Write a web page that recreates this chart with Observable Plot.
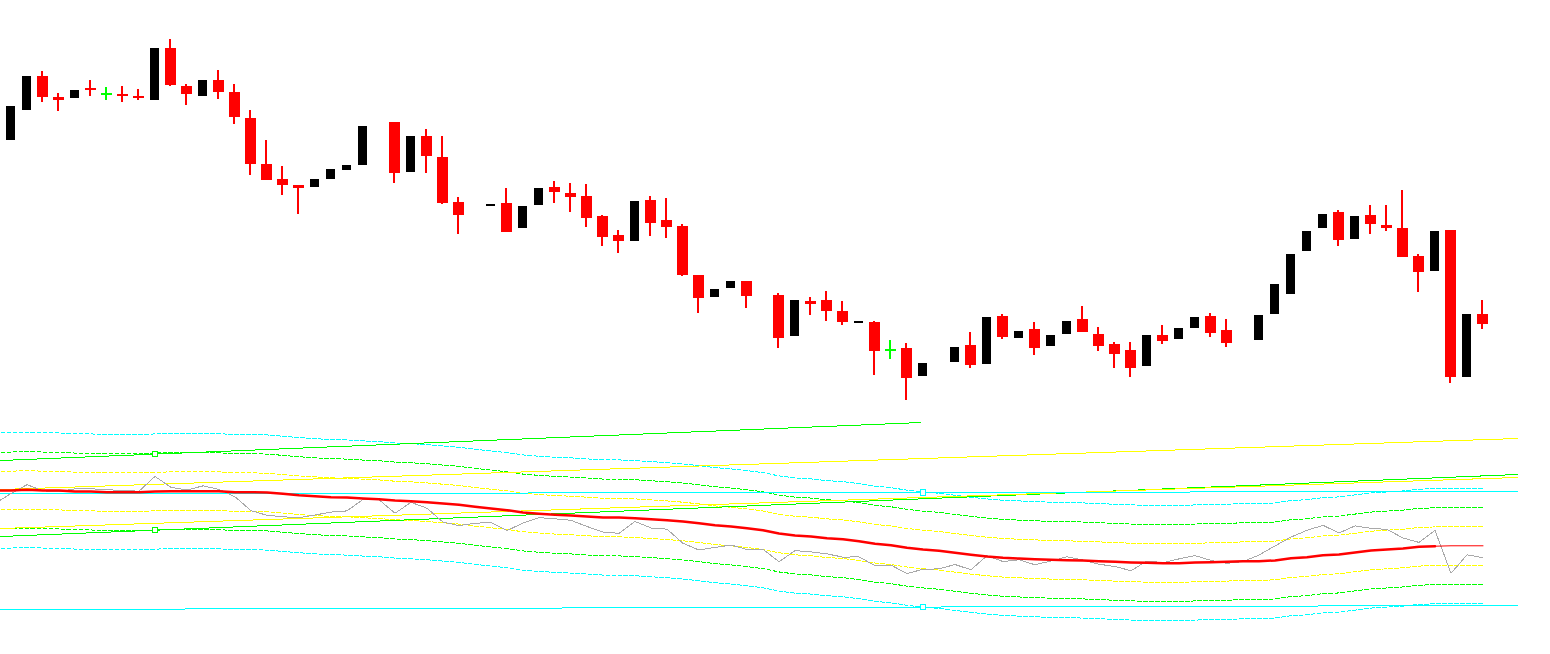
<!DOCTYPE html>
<html>
<head>
<meta charset="utf-8">
<script src="https://cdn.jsdelivr.net/npm/d3@7"></script>
<script src="https://cdn.jsdelivr.net/npm/@observablehq/plot@0.6"></script>
<style>
html,body{margin:0;padding:0;background:#ffffff;overflow:hidden}
#chart svg{display:block;background:#ffffff}
</style>
</head>
<body>
<div id="chart"></div>
<script>
// ---- DATA (bar -1 sits just off the left edge; null = bar not drawn as a candle) ----
const bars = d3.range(-1, 93);

const open = [null,
1.1360,1.1390,1.1424,1.1403,1.1402,1.1412,1.1407,1.1406,1.1404,1.1400,
1.1452,1.1414,1.1404,1.1420,1.1408,1.1382,1.1336,1.1321,1.1315,1.1313,
1.1321,1.1330,1.1335,null,1.1378,1.1328,1.1364,1.1343,1.1298,null,
1.1294,1.1297,1.1272,1.1295,1.1313,1.1307,1.1304,1.1284,1.1265,1.1259,
1.1300,1.1280,1.1274,1.1225,1.1203,1.1212,1.1219,null,1.1205,1.1164,
1.1199,1.1200,1.1189,1.1177,1.1178,1.1151,1.1152,1.1124,null,1.1138,
1.1155,1.1136,1.1184,1.1162,1.1171,1.1154,1.1166,1.1181,1.1166,1.1156,
1.1150,1.1134,1.1165,1.1161,1.1172,1.1184,1.1170,null,1.1160,1.1186,
1.1206,1.1249,1.1272,1.1288,1.1261,1.1285,1.1275,1.1272,1.1244,1.1229,
1.1270,1.1123,1.1186];

const high = [null,
1.1394,1.1424,1.1429,1.1407,1.1410,1.1420,1.1413,1.1414,1.1411,1.1452,
1.1461,1.1416,1.1420,1.1430,1.1416,1.1390,1.1360,1.1334,1.1315,1.1321,
1.1331,1.1335,1.1374,null,1.1378,1.1364,1.1371,1.1364,1.1303,null,
1.1296,1.1312,1.1294,1.1312,1.1319,1.1317,1.1316,1.1285,1.1270,1.1299,
1.1304,1.1302,1.1276,1.1225,1.1211,1.1219,1.1219,null,1.1207,1.1200,
1.1203,1.1209,1.1199,1.1179,1.1179,1.1160,1.1157,1.1137,null,1.1153,
1.1168,1.1183,1.1186,1.1169,1.1178,1.1165,1.1179,1.1194,1.1173,1.1158,
1.1158,1.1165,1.1175,1.1172,1.1183,1.1187,1.1181,null,1.1185,1.1216,
1.1246,1.1269,1.1286,1.1290,1.1284,1.1295,1.1295,1.1310,1.1246,1.1269,
1.1270,1.1186,1.1200];

const low = [null,
1.1360,1.1390,1.1398,1.1389,1.1402,1.1404,1.1400,1.1398,1.1400,1.1400,
1.1414,1.1395,1.1404,1.1401,1.1376,1.1325,1.1320,1.1305,1.1286,1.1313,
1.1321,1.1330,1.1335,null,1.1317,1.1328,1.1327,1.1296,1.1266,null,
1.1294,1.1268,1.1272,1.1295,1.1297,1.1288,1.1273,1.1254,1.1247,1.1259,
1.1264,1.1262,1.1224,1.1187,1.1203,1.1212,1.1192,null,1.1152,1.1164,
1.1185,1.1179,1.1175,1.1177,1.1125,1.1141,1.1100,1.1124,null,1.1138,
1.1132,1.1136,1.1161,1.1162,1.1145,1.1154,1.1166,1.1168,1.1149,1.1132,
1.1123,1.1134,1.1156,1.1161,1.1172,1.1163,1.1153,null,1.1160,1.1186,
1.1206,1.1249,1.1272,1.1254,1.1261,1.1266,1.1269,1.1243,1.1208,1.1229,
1.1117,1.1123,1.1171];

const close = [1.1360,
1.1394,1.1424,1.1403,1.1400,1.1410,1.1410,1.1407,1.1404,1.1402,1.1452,
1.1415,1.1406,1.1420,1.1408,1.1383,1.1336,1.1320,1.1315,1.1312,1.1321,
1.1331,1.1335,1.1374,1.1373,1.1327,1.1364,1.1344,1.1297,1.1285,1.1293,
1.1296,1.1268,1.1294,1.1312,1.1308,1.1303,1.1282,1.1263,1.1259,1.1299,
1.1277,1.1273,1.1225,1.1202,1.1211,1.1219,1.1204,1.1205,1.1162,1.1200,
1.1196,1.1189,1.1178,1.1179,1.1149,1.1151,1.1122,1.1137,1.1138,1.1153,
1.1135,1.1183,1.1163,1.1169,1.1152,1.1165,1.1179,1.1168,1.1154,1.1146,
1.1132,1.1165,1.1159,1.1172,1.1183,1.1167,1.1157,1.1163,1.1185,1.1216,
1.1246,1.1269,1.1286,1.1260,1.1284,1.1276,1.1272,1.1243,1.1228,1.1269,
1.1123,1.1186,1.1176];

// 20-bar moving average of close
const ma = [1.14042,
1.14042,1.14066,1.14042,1.14042,1.14008,1.14008,1.13985,1.13985,1.13985,1.14008,
1.14019,1.14019,1.14019,1.14019,1.13985,1.13985,1.13975,1.13930,1.13883,1.13849,
1.13815,1.13805,1.13771,1.13747,1.13703,1.13679,1.13645,1.13601,1.13557,1.13489,
1.13431,1.13374,1.13295,1.13251,1.13217,1.13194,1.13160,1.13126,1.13126,1.13102,
1.13068,1.13034,1.12990,1.12932,1.12864,1.12820,1.12762,1.12694,1.12582,1.12514,
1.12480,1.12423,1.12389,1.12321,1.12233,1.12185,1.12097,1.12039,1.11995,1.11927,
1.11859,1.11801,1.11757,1.11733,1.11710,1.11689,1.11676,1.11666,1.11642,1.11621,
1.11598,1.11587,1.11574,1.11574,1.11598,1.11608,1.11621,1.11642,1.11642,1.11666,
1.11744,1.11778,1.11846,1.11869,1.11937,1.12005,1.12039,1.12073,1.12131,1.12151,
1.12165,1.12165,1.12165];
const maThinFromBar = 89;

// envelope distances around the MA and their colours
const envOffsets = [0.00655, 0.01305, 0.01955];
const envColors = ["#ffff00", "#00ff00", "#00ffff"];

// straight channel lines of the lower pane (bar index, price)
const lineName = ["greenUpper","greenLower","yellowUpper","yellowLower","cyanUpper","cyanLower"];
const lineColor = ["#00ff00","#00ff00","#ffff00","#ffff00","#00ffff","#00ffff"];
const lineBar1 = [-0.66,-0.66,-0.66,-0.66,-0.66,-0.66];
const linePrice1 = [1.15061,1.12480,1.14076,1.12752,1.13930,1.10002];
const lineBar2 = [56.9,94.16,94.16,94.16,94.16,94.16];
const linePrice2 = [1.16351,1.14586,1.15808,1.14484,1.14008,1.10138];

// anchor squares on the channel lines
const anchorBar = [9, 9, 57, 57];
const anchorPrice = [1.15278, 1.12694, 1.13975, 1.10083];
const anchorColor = ["#00ff00","#00ff00","#00ffff","#00ffff"];

// ---- BUILD ----
const candles = bars.map((b, k) => ({bar: b, open: open[k], high: high[k], low: low[k], close: close[k], ma: ma[k]}));
const shown = candles.filter(d => d.open != null);
const bull = shown.filter(d => d.close > d.open);
const bear = shown.filter(d => d.close < d.open);
const doji = shown.filter(d => d.close === d.open);
const lines = lineName.map((n, k) => ({name: n, color: lineColor[k], b1: lineBar1[k], p1: linePrice1[k], b2: lineBar2[k], p2: linePrice2[k]}));
const anchors = anchorBar.map((b, k) => ({bar: b, price: anchorPrice[k], color: anchorColor[k]}));

const W = 1550, H1 = 421, H2 = 233;
const xScale = {domain: [-0.65625, 96.21875], range: [0, W], axis: null};
const RED = "#ff0000", GREEN = "#00ff00", BLACK = "#000000";
const wideHalf = 5.5 / 16, narrowHalf = 4.5 / 16;

const main = Plot.plot({
  width: W, height: H1, margin: 0,
  style: {background: "#ffffff"},
  x: xScale,
  y: {domain: [1.1079, 1.1500], range: [H1, 0], axis: null},
  marks: [
    Plot.rect(bear.concat(doji), {x1: d => d.bar - 1.5/16, x2: d => d.bar + 0.5/16, y1: "low", y2: "high",
      fill: d => d.close === d.open ? GREEN : RED, shapeRendering: "crispEdges"}),
    Plot.rect(bear, {x1: d => d.bar - wideHalf, x2: d => d.bar + wideHalf, y1: "open", y2: "close",
      fill: RED, shapeRendering: "crispEdges"}),
    Plot.rect(bull, {x1: d => d.bar - narrowHalf, x2: d => d.bar + narrowHalf, y1: "open", y2: "close",
      fill: BLACK, shapeRendering: "crispEdges"}),
    Plot.ruleY(doji, {y: "close", x1: d => d.bar - wideHalf, x2: d => d.bar + wideHalf,
      stroke: GREEN, strokeWidth: 2, shapeRendering: "crispEdges"})
  ]
});

const envMarks = [];
envOffsets.forEach((off, k) => {
  [1, -1].forEach(s => {
    envMarks.push(Plot.line(candles, {x: "bar", y: d => d.ma + s * off, stroke: envColors[k],
      strokeWidth: 1, strokeDasharray: "4,2", shapeRendering: "crispEdges"}));
  });
});

const sub = Plot.plot({
  width: W, height: H2, margin: 0,
  style: {background: "#ffffff"},
  x: xScale,
  y: {domain: [1.084737, 1.163854], range: [H2, 0], axis: null},
  marks: [
    ...envMarks,
    Plot.link(lines, {x1: "b1", y1: "p1", x2: "b2", y2: "p2", stroke: "color", strokeWidth: 1,
      clip: true, shapeRendering: "crispEdges"}),
    Plot.line(candles, {x: "bar", y: "close", stroke: "#a9a9a9", strokeWidth: 1, shapeRendering: "crispEdges"}),
    Plot.line(candles.filter(d => d.bar <= maThinFromBar), {x: "bar", y: "ma", stroke: RED, strokeWidth: 2.5}),
    Plot.line(candles.filter(d => d.bar >= maThinFromBar), {x: "bar", y: "ma", stroke: RED, strokeWidth: 1}),
    Plot.dot(anchors, {x: "bar", y: "price", symbol: "square", r: 3, fill: "#ffffff", stroke: "color",
      strokeWidth: 1, shapeRendering: "crispEdges"})
  ]
});

const root = document.getElementById("chart");
root.appendChild(main);
root.appendChild(sub);
</script>
</body>
</html>
